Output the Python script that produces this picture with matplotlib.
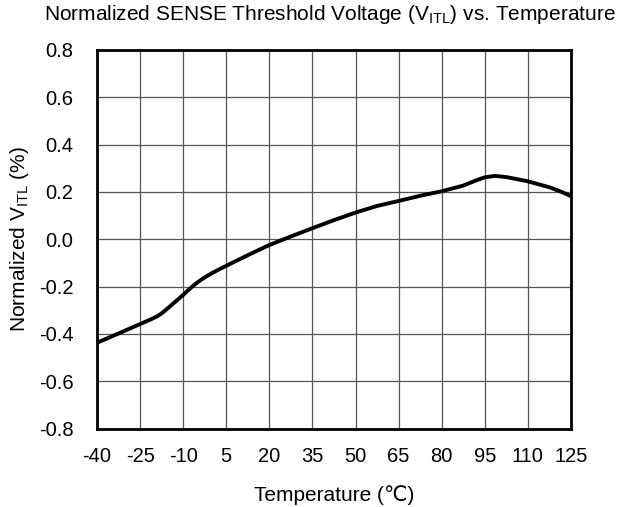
import matplotlib.pyplot as plt

plt.rcParams['font.family'] = ['Liberation Sans', 'DejaVu Sans']
plt.rcParams['mathtext.fontset'] = 'custom'
plt.rcParams['mathtext.rm'] = 'Liberation Sans'

temp = [-40, -32.5, -25, -21, -19, -17.5, -16, -14, -12, -10, -8, -6, -4, -2,
        0, 2.5, 5, 12.5, 20, 27.5, 35, 42.5, 50, 57.5, 65, 72.5, 80, 87.5, 92,
        95, 98.5, 102.5, 110, 117.5, 122, 125]
vitl = [-0.437, -0.398, -0.358, -0.337, -0.325, -0.313, -0.298, -0.277, -0.256,
        -0.235, -0.212, -0.191, -0.173, -0.157, -0.143, -0.127, -0.112, -0.067,
        -0.024, 0.012, 0.047, 0.081, 0.113, 0.141, 0.162, 0.184, 0.203, 0.227,
        0.249, 0.262, 0.268, 0.263, 0.245, 0.22, 0.199, 0.182]

xticks = [-40, -25, -10, 5, 20, 35, 50, 65, 80, 95, 110, 125]
yticks = [-0.8, -0.6, -0.4, -0.2, 0.0, 0.2, 0.4, 0.6, 0.8]

fig = plt.figure(figsize=(6.24, 5.07), dpi=100)
ax = fig.add_axes([0.1555, 0.1546, 0.7595, 0.7468])

ax.plot(temp, vitl, color='black', lw=2.8, solid_capstyle='butt')
ax.set_xlim(-40, 125)
ax.set_ylim(-0.8, 0.8)
ax.set_xticks(xticks)
ax.set_xticklabels([str(t) for t in xticks])
ax.set_yticks(yticks)
ax.set_yticklabels([f"{v:.1f}" for v in yticks])
ax.grid(True, color='#555555', lw=0.9)
ax.tick_params(length=0, labelsize=14.5)
ax.tick_params(axis='x', pad=13)
ax.tick_params(axis='y', pad=17)
for s in ax.spines.values():
    s.set_linewidth(2)

ax.set_xlabel('Temperature (\u2103)', fontsize=15, va='center')
ax.xaxis.set_label_coords(0.5, -0.175)
ax.set_ylabel(r'Normalized V$\mathregular{_{ITL}}$ (%)', fontsize=15, va='center')
ax.yaxis.set_label_coords(-0.163, 0.5)
fig.text(0.529, 0.972, r'Normalized SENSE Threshold Voltage (V$\mathregular{_{ITL}}$) vs. Temperature',
         ha='center', va='center', fontsize=15)

fig.savefig('out.png', dpi=100)
